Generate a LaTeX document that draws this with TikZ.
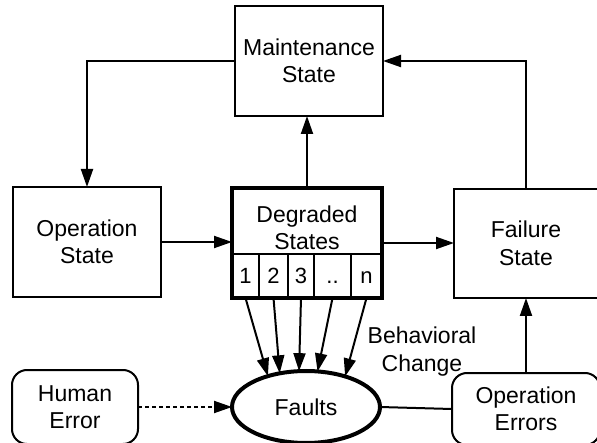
\documentclass[tikz,border=0pt]{standalone}
\usepackage{fontspec}
\setmainfont{Liberation Sans}
\usetikzlibrary{arrows.meta,shapes.geometric}
\begin{document}
\begin{tikzpicture}[x=1pt,y=1pt,
  txt/.style={font=\fontsize{23}{27.5}\selectfont, align=center},
  statebox/.style={draw, line width=2pt, inner sep=0pt, outer sep=0pt, txt},
  roundbox/.style={statebox, rounded corners=15pt},
  cellbox/.style={draw, line width=2pt, inner sep=0pt, outer sep=0pt,
                  minimum height=44pt, text height=15pt, text depth=0pt,
                  font=\fontsize{22}{24}\selectfont},
  conn/.style={line width=2pt},
  arr/.style={conn, -{Triangle[length=18pt,width=12pt]}}
]
\useasboundingbox (0,0) rectangle (597,442);

% state boxes
\node[statebox, minimum width=148pt, minimum height=110pt] (maint) at (309,381) {Maintenance\\State};
\node[statebox, minimum width=148pt, minimum height=110pt] (oper) at (87,200) {Operation\\State};
\node[statebox, minimum width=144pt, minimum height=109pt] (fail) at (526,198.5) {Failure\\State};

% degraded states with the row of numbered sub-states
\node[cellbox, minimum width=27pt] (c1) at (245.5,166) {1};
\node[cellbox, minimum width=29pt] (c2) at (273.5,166) {2};
\node[cellbox, minimum width=26pt] (c3) at (301,166) {3};
\node[cellbox, minimum width=37pt] (c4) at (332.5,166) {..};
\node[cellbox, minimum width=31pt] (c5) at (366.5,166) {n};
\node[txt] (degtxt) at (307,214) {Degraded\\States};
\node[draw, line width=4pt, inner sep=0pt, outer sep=0pt,
      minimum width=150pt, minimum height=110pt] (deg) at (307,199) {};

% error sources and faults
\node[roundbox, minimum width=126pt, minimum height=74pt] (human) at (75,35) {Human\\Error};
\node[roundbox, minimum width=148pt, minimum height=72pt] (operr) at (526,33) {Operation\\Errors};
\node[draw, ellipse, line width=4pt, inner sep=0pt, outer sep=0pt,
      minimum width=148pt, minimum height=72pt, txt] (faults) at (306,35) {Faults};

\node[txt] (beh) at (422,90.5) {Behavioral\\Change};

% connectors
\draw[arr] (deg.north) -- (deg.north |- maint.south);
\draw[arr] (maint.west) -| (oper.north);
\draw[arr] (fail.north) |- (maint.east);
\draw[arr] (oper.east) -- (oper.east -| deg.west);
\draw[arr] (deg.east) -- (deg.east -| fail.west);

\draw[arr] (c1.south) -- (faults.141.9);
\draw[arr] (c2.south) -- (faults.128.9);
\draw[arr] (c3.south) -- (faults.101.1);
\draw[arr] (c4.south) -- (faults.72.8);
\draw[arr] (c5.south) -- (faults.38.1);

\draw[arr, dash pattern=on 4pt off 3pt] (human.east) -- (faults.west);
\draw[conn] (faults.east) -- (operr.west);
\draw[arr] (operr.north) -- (operr.north |- fail.south);
\end{tikzpicture}
\end{document}
